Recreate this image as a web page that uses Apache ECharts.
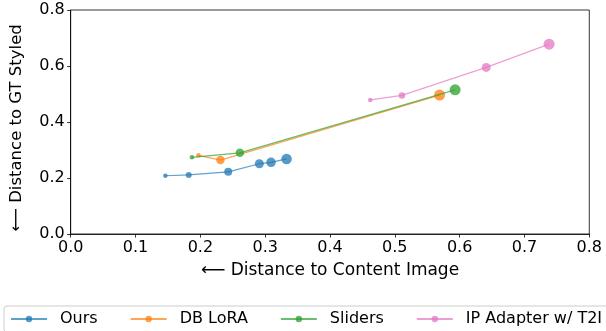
<!DOCTYPE html>
<html>
<head>
<meta charset="utf-8">
<script src="https://cdn.jsdelivr.net/npm/echarts@6/dist/echarts.min.js"></script>
<style>
html,body{margin:0;padding:0;background:#fff;}
#c{width:606px;height:331px;}
</style>
</head>
<body>
<div id="c"></div>
<script>
// Data (x = distance to content image, y = distance to GT styled)
const seriesNames = ["Ours", "DB LoRA", "Sliders", "IP Adapter w/ T2I"];
const oursX = [0.146, 0.182, 0.243, 0.291, 0.309, 0.333];
const oursY = [0.208, 0.211, 0.222, 0.251, 0.256, 0.268];
const dbloraX = [0.197, 0.231, 0.569];
const dbloraY = [0.281, 0.264, 0.496];
const slidersX = [0.187, 0.261, 0.593];
const slidersY = [0.274, 0.290, 0.515];
const ipX = [0.462, 0.511, 0.641, 0.738];
const ipY = [0.479, 0.495, 0.595, 0.678];
const xTicks = [0.0, 0.1, 0.2, 0.3, 0.4, 0.5, 0.6, 0.7, 0.8];
const yTicks = [0.0, 0.2, 0.4, 0.6, 0.8];

// Marker sizes (style)
const oursSizes = [4.5, 6, 8, 9, 9.5, 10.5];
const dbloraSizes = [4.5, 8.5, 11];
const slidersSizes = [4.5, 8.5, 11];
const ipSizes = [4.5, 6.5, 9, 11];

const colors = ["#1f77b4", "#ff7f0e", "#2ca02c", "#e377c2"];
const font = "DejaVu Sans";

function pairs(xs, ys) { return xs.map((x, i) => [x, ys[i]]); }

const sets = [
  [oursX, oursY, oursSizes],
  [dbloraX, dbloraY, dbloraSizes],
  [slidersX, slidersY, slidersSizes],
  [ipX, ipY, ipSizes]
];

const chart = echarts.init(document.getElementById('c'), null, {renderer: 'canvas'});
chart.setOption({
  animation: false,
  backgroundColor: '#fff',
  grid: {
    left: 70.7, right: 16.7, top: 10, bottom: 97,
    show: true, borderColor: '#000', borderWidth: 0.8, backgroundColor: 'transparent'
  },
  xAxis: {
    type: 'value', min: 0, max: 0.8, interval: 0.1,
    name: '\u27F5 Distance to Content Image',
    nameLocation: 'middle', nameGap: 28,
    nameTextStyle: {fontFamily: font, fontSize: 17, color: '#000'},
    axisLine: {show: true, onZero: false, lineStyle: {color: '#000', width: 0.8}},
    axisTick: {show: true, length: 3.5, lineStyle: {color: '#000', width: 0.8}},
    axisLabel: {fontFamily: font, fontSize: 16, color: '#000', margin: 6,
      formatter: v => v.toFixed(1)},
    splitLine: {show: false}
  },
  yAxis: {
    type: 'value', min: 0, max: 0.8, interval: 0.2,
    name: '\u27F5 Distance to GT Styled',
    nameLocation: 'middle', nameGap: 45, nameRotate: 90,
    nameTextStyle: {fontFamily: font, fontSize: 16.5, color: '#000', padding: [0, 12, 0, 0]},
    axisLine: {show: true, onZero: false, lineStyle: {color: '#000', width: 0.8}},
    axisTick: {show: true, length: 3.5, lineStyle: {color: '#000', width: 0.8}},
    axisLabel: {fontFamily: font, fontSize: 16, color: '#000', margin: 6,
      formatter: v => v.toFixed(1)},
    splitLine: {show: false}
  },
  legend: {
    left: 4, top: 306, width: 900,
    padding: [5, 10, 5, 6],
    itemGap: 32,
    itemWidth: 36, itemHeight: 8,
    borderColor: '#ccc', borderWidth: 1, borderRadius: 3,
    textStyle: {fontFamily: font, fontSize: 16, color: '#000', padding: [0, 0, 0, 8]},
    data: seriesNames
  },
  series: sets.map((s, k) => ({
    name: seriesNames[k],
    type: 'line',
    data: pairs(s[0], s[1]),
    symbol: 'circle',
    symbolSize: (v, p) => s[2][p.dataIndex],
    showSymbol: true,
    z: 2 + k,
    lineStyle: {color: colors[k], width: 1.2, opacity: 0.7},
    itemStyle: {color: colors[k], opacity: 0.75, borderWidth: 0}
  }))
});
</script>
</body>
</html>
